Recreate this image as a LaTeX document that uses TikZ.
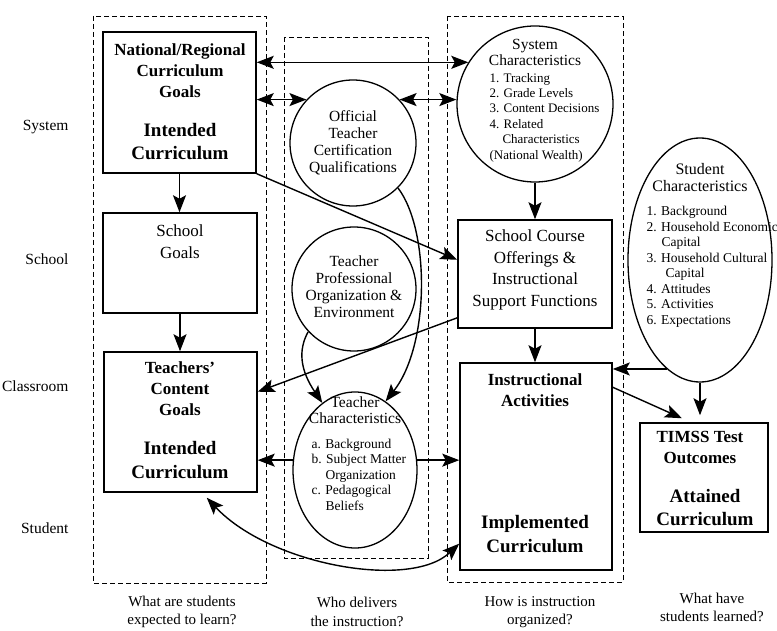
\documentclass[tikz,border=0pt]{standalone}
\usepackage{fontspec}
\setmainfont{Liberation Serif}
\usetikzlibrary{arrows.meta,shapes.geometric,calc}

\begin{document}
\begin{tikzpicture}[x=1pt,y=-1pt,
  boxnode/.style={draw, line width=1.5pt, inner sep=0pt},
  bubble/.style={draw, line width=1.3pt, circle, inner sep=0pt},
  oval/.style={draw, line width=1.3pt, ellipse, inner sep=0pt},
  grp/.style={draw, line width=0.8pt, dash pattern=on 5pt off 3pt},
  tip/.tip={Stealth[length=17pt,width=13pt,inset=3.5pt]},
  arr/.style={line width=1.4pt, -tip},
  dbl/.style={line width=1.4pt, tip-tip},
  headtxt/.style={font=\bfseries\fontsize{17}{21}\selectfont, align=center},
  bigtxt/.style={font=\bfseries\fontsize{19}{23.5}\selectfont, align=center},
  plaintxt/.style={font=\fontsize{17}{21.5}\selectfont, align=center},
  titletxt/.style={font=\fontsize{15.5}{16}\selectfont, align=center},
  circtxt/.style={font=\fontsize{15.5}{17}\selectfont, align=center},
  itemtxt/.style={font=\fontsize{13.5}{15.5}\selectfont, align=left, anchor=west},
  rowtxt/.style={font=\fontsize{15.5}{18}\selectfont, anchor=east},
  asktxt/.style={font=\fontsize{15}{18.5}\selectfont, align=center},
]
\useasboundingbox (0,0) rectangle (777,631);

% column frames
\draw[grp] (93,16) rectangle (266,583);
\draw[grp] (284,37) rectangle (428,558);
\draw[grp] (447,16) rectangle (623,582);

% row labels
\node[rowtxt] (rSys) at (72,127) {System};
\node[rowtxt] (rSch) at (72,259) {School};
\node[rowtxt] (rCls) at (72,386) {Classroom};
\node[rowtxt] (rStu) at (72,528) {Student};

% boxes
\node[boxnode, minimum width=153pt, minimum height=141pt] (NRC) at (179.5,102.5) {};
\node[boxnode, minimum width=154pt, minimum height=100pt] (SG) at (180,263) {};
\node[boxnode, minimum width=153pt, minimum height=140pt] (TCG) at (180.5,422) {};
\node[boxnode, minimum width=154pt, minimum height=108pt] (SCO) at (535,274) {};
\node[boxnode, minimum width=152pt, minimum height=207pt] (IA) at (536,466.5) {};
\node[boxnode, minimum width=128pt, minimum height=109pt] (TIMSS) at (704,477.5) {};

% circles and ellipses
\node[bubble, minimum size=126pt] (OTC) at (353,143) {};
\node[bubble, minimum size=124pt] (TPO) at (354,289) {};
\node[oval, minimum width=124pt, minimum height=156pt] (TC) at (355,470) {};
\node[bubble, minimum size=156pt] (SC) at (535,104) {};
\node[oval, minimum width=144pt, minimum height=244pt] (StC) at (700,260) {};

% texts
\node[headtxt] (nrcA) at (180,71) {National/Regional\\Curriculum\\Goals};
\node[bigtxt] (nrcB) at (180,141.5) {Intended\\Curriculum};
\node[plaintxt] (sgT) at (180,241.5) {School\\Goals};
\node[headtxt] (tcgA) at (180,388.5) {Teachers’\\Content\\Goals};
\node[bigtxt] (tcgB) at (180,460) {Intended\\Curriculum};
\node[circtxt] (otcT) at (353,142.5) {Official\\Teacher\\Certification\\Qualifications};
\node[circtxt] (tpoT) at (354,286.5) {Teacher\\Professional\\Organization \&\\Environment};
\node[titletxt] (tcA) at (355,410.5) {Teacher\\Characteristics};
\node[itemtxt] (tcB) at (308,474.5) {a. Background\\b. Subject Matter\\\hspace*{14pt}Organization\\c. Pedagogical\\\hspace*{14pt}Beliefs};
\node[titletxt] (scA) at (535,52) {System\\Characteristics};
\node[itemtxt, font=\fontsize{13}{15.4}\selectfont] (scB) at (486,117.5) {1. Tracking\\2. Grade Levels\\3. Content Decisions\\4. Related\\\hspace*{13pt}Characteristics\\(National Wealth)};
\node[titletxt, font=\fontsize{16}{17}\selectfont] (stA) at (700,177.5) {Student\\Characteristics};
\node[itemtxt] (stB) at (643,267) {1. Background\\2. Household Economic\\\hspace*{15pt}Capital\\3. Household Cultural\\\hspace*{19pt}Capital\\4. Attitudes\\5. Activities\\6. Expectations};
\node[plaintxt] (scoT) at (535,270) {School Course\\Offerings \&\\Instructional\\Support Functions};
\node[headtxt] (iaA) at (535,390) {Instructional\\Activities};
\node[bigtxt] (iaB) at (535,534) {Implemented\\Curriculum};
\node[headtxt] (tmA) at (700,447.5) {TIMSS Test\\Outcomes};
\node[bigtxt] (tmB) at (705,507.5) {Attained\\Curriculum};

% column questions
\node[asktxt] (q1) at (182,612) {What are students\\expected to learn?};
\node[asktxt] (q2) at (357,612) {Who delivers\\the instruction?};
\node[asktxt] (q3) at (540,612) {How is instruction\\organized?};
\node[asktxt] (q4) at (712,607.5) {What have\\students learned?};

% connectors
\draw[dbl] (NRC.east |- SC.148) -- (SC.148);
\draw[dbl] (NRC.east |- OTC.137) -- (OTC.137);
\draw[dbl] (OTC.43) -- (SC.west |- OTC.43);
\draw[arr] (NRC.south) -- (NRC.south |- SG.north);
\draw[arr] (NRC.south east) -- ($(SCO.north west)!0.37!(SCO.south west)$);
\draw[arr] (SG.south) -- (SG.south |- TCG.north);
\draw[arr] (SC.south) -- (SC.south |- SCO.north);
\draw[arr] ($(SCO.north west)!0.9!(SCO.south west)$) -- ($(TCG.north east)!0.286!(TCG.south east)$);
\draw[arr] (OTC.-45) .. controls (430,230) and (430,345) .. (TC.66);
\draw[arr] (TPO.223) .. controls (298,350) and (300,370) .. (TC.116);
\draw[arr] (SCO.south) -- (SCO.south |- IA.north);
\draw[arr] (TC.171) -- (TCG.east |- TC.171);
\draw[arr] (TC.9) -- (IA.west |- TC.9);
\draw[dbl] ($(TCG.south west)!0.67!(TCG.south east)+(0,5)$) .. controls (270,565) and (410,590) .. ($(IA.north west)!0.87!(IA.south west)$);
\draw[arr] (StC.253) -- (IA.east |- StC.253);
\draw[arr] (StC.south) -- ($(StC.south |- TIMSS.north)+(0,-7)$);
\draw[arr] ($(IA.north east)!0.12!(IA.south east)$) -- ($(TIMSS.north west)!0.33!(TIMSS.north east)+(0,-4)$);
\end{tikzpicture}
\end{document}
